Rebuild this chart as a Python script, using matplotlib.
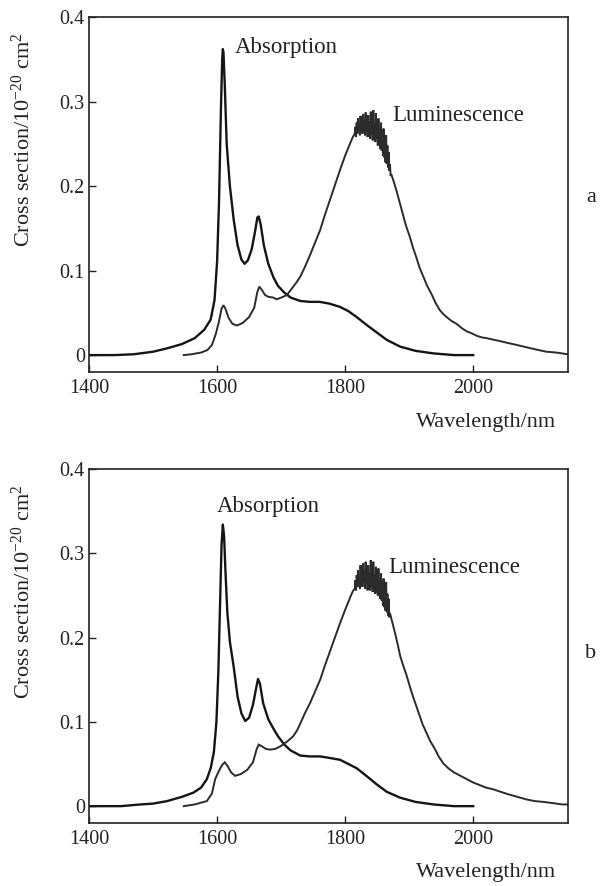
import matplotlib
matplotlib.use("Agg")
import matplotlib.pyplot as plt

plt.rcParams['font.family'] = ['Liberation Serif', 'DejaVu Serif']
plt.rcParams['mathtext.fontset'] = 'custom'
plt.rcParams['mathtext.rm'] = 'Liberation Serif'
plt.rcParams['mathtext.it'] = 'Liberation Serif:italic'

# ---------------- data ----------------
x_ticks = [1400, 1600, 1800, 2000]
x_tick_labels = ["1400", "1600", "1800", "2000"]
y_ticks = [0.0, 0.1, 0.2, 0.3, 0.4]
y_tick_labels = ["0", "0.1", "0.2", "0.3", "0.4"]

# panel a -- absorption
abs_a_wl = [1400, 1440, 1470, 1500, 1522, 1545, 1565, 1580, 1590, 1596, 1600, 1603, 1606, 1608,
            1609, 1610, 1612, 1615, 1620, 1626, 1632, 1638, 1643, 1648, 1654, 1659, 1663, 1665,
            1668, 1673, 1680, 1688, 1695, 1705, 1715, 1730, 1745, 1760, 1775, 1792, 1805, 1818,
            1833, 1849, 1865, 1886, 1910, 1938, 1970, 2000]
abs_a_val = [0.0, 0.0, 0.001, 0.004, 0.008, 0.013, 0.020, 0.030, 0.042, 0.065, 0.11, 0.18, 0.29, 0.35,
             0.362, 0.358, 0.32, 0.25, 0.20, 0.16, 0.13, 0.113, 0.108, 0.112, 0.125, 0.145, 0.163, 0.164,
             0.155, 0.13, 0.108, 0.092, 0.082, 0.074, 0.068, 0.064, 0.063, 0.063, 0.061, 0.057, 0.052, 0.045,
             0.036, 0.027, 0.018, 0.010, 0.005, 0.002, 0.0, 0.0]

# panel a -- luminescence (rise, noisy top, decay)
lum_a_rise_wl = [1548, 1560, 1575, 1585, 1592, 1598, 1603, 1607, 1610, 1613, 1618, 1624, 1631, 1640,
                 1650, 1658, 1663, 1666, 1670, 1675, 1680, 1688, 1693, 1700, 1709, 1718, 1724, 1730,
                 1737, 1745, 1753, 1761, 1768, 1776, 1784, 1792, 1800, 1808, 1812]
lum_a_rise_val = [0.0, 0.001, 0.003, 0.006, 0.012, 0.025, 0.040, 0.055, 0.059, 0.055, 0.044, 0.037, 0.035, 0.038,
                  0.045, 0.056, 0.075, 0.081, 0.077, 0.071, 0.069, 0.068, 0.066, 0.068, 0.071, 0.080, 0.086, 0.093,
                  0.104, 0.118, 0.133, 0.148, 0.165, 0.183, 0.201, 0.219, 0.236, 0.251, 0.258]
lum_a_top_wl = list(range(1815, 1873))
lum_a_top_val = [0.262, 0.270, 0.258, 0.275, 0.262, 0.280, 0.265, 0.272, 0.260, 0.283, 0.266, 0.278,
                 0.262, 0.285, 0.268, 0.276, 0.260, 0.287, 0.266, 0.279, 0.258, 0.284, 0.262, 0.276,
                 0.256, 0.288, 0.262, 0.274, 0.254, 0.290, 0.258, 0.272, 0.252, 0.286, 0.256, 0.270,
                 0.248, 0.280, 0.250, 0.264, 0.244, 0.275, 0.242, 0.262, 0.236, 0.268, 0.234, 0.255,
                 0.228, 0.260, 0.226, 0.248, 0.222, 0.240, 0.218, 0.226, 0.212, 0.214]
lum_a_fall_wl = [1876, 1880, 1885, 1890, 1895, 1901, 1906, 1911, 1916, 1922, 1928, 1935, 1941, 1948,
                 1954, 1960, 1967, 1974, 1982, 1990, 1997, 2005, 2013, 2021, 2033, 2045, 2056, 2068,
                 2079, 2090, 2102, 2114, 2130, 2147]
lum_a_fall_val = [0.205, 0.195, 0.181, 0.167, 0.153, 0.140, 0.127, 0.116, 0.104, 0.093, 0.082, 0.072, 0.062, 0.053,
                  0.048, 0.044, 0.040, 0.037, 0.032, 0.028, 0.026, 0.023, 0.021, 0.020, 0.018, 0.016, 0.014, 0.012,
                  0.010, 0.008, 0.006, 0.004, 0.003, 0.001]

# panel b -- absorption
abs_b_wl = [1400, 1450, 1480, 1500, 1522, 1545, 1563, 1575, 1584, 1590, 1595, 1599, 1602, 1605,
            1607, 1609, 1611, 1613, 1616, 1620, 1626, 1632, 1638, 1644, 1650, 1656, 1661, 1664,
            1667, 1672, 1680, 1688, 1695, 1705, 1715, 1730, 1745, 1761, 1777, 1792, 1805, 1818,
            1833, 1849, 1865, 1886, 1910, 1938, 1970, 2000]
abs_b_val = [0.0, 0.0, 0.002, 0.003, 0.006, 0.011, 0.016, 0.022, 0.032, 0.045, 0.064, 0.10, 0.16, 0.25,
             0.31, 0.334, 0.32, 0.28, 0.23, 0.195, 0.165, 0.13, 0.110, 0.101, 0.105, 0.120, 0.140, 0.151,
             0.145, 0.122, 0.103, 0.092, 0.083, 0.073, 0.066, 0.060, 0.059, 0.059, 0.057, 0.055, 0.050, 0.045,
             0.036, 0.026, 0.017, 0.010, 0.005, 0.002, 0.0, 0.0]

# panel b -- luminescence
lum_b_rise_wl = [1548, 1565, 1584, 1592, 1597, 1603, 1608, 1612, 1616, 1622, 1628, 1637, 1647, 1656,
                 1662, 1665, 1670, 1676, 1683, 1691, 1699, 1710, 1719, 1725, 1730, 1737, 1745, 1753,
                 1761, 1768, 1776, 1784, 1792, 1800, 1808, 1812]
lum_b_rise_val = [0.0, 0.002, 0.006, 0.015, 0.032, 0.042, 0.049, 0.052, 0.048, 0.040, 0.036, 0.038, 0.043, 0.052,
                  0.068, 0.073, 0.071, 0.068, 0.067, 0.068, 0.071, 0.077, 0.083, 0.090, 0.098, 0.110, 0.122, 0.136,
                  0.150, 0.166, 0.183, 0.200, 0.217, 0.233, 0.248, 0.255]
lum_b_top_wl = list(range(1815, 1871))
lum_b_top_val = [0.258, 0.268, 0.256, 0.274, 0.260, 0.280, 0.262, 0.272, 0.258, 0.286, 0.264, 0.276,
                 0.260, 0.288, 0.266, 0.278, 0.258, 0.290, 0.264, 0.280, 0.256, 0.286, 0.262, 0.276,
                 0.256, 0.292, 0.260, 0.276, 0.254, 0.290, 0.258, 0.274, 0.252, 0.284, 0.254, 0.270,
                 0.250, 0.282, 0.250, 0.266, 0.246, 0.276, 0.244, 0.266, 0.238, 0.270, 0.236, 0.262,
                 0.232, 0.266, 0.230, 0.252, 0.226, 0.246, 0.224, 0.229]
lum_b_fall_wl = [1874, 1878, 1882, 1886, 1891, 1896, 1901, 1906, 1911, 1916, 1921, 1927, 1933, 1940,
                 1946, 1953, 1961, 1970, 1980, 1990, 2000, 2010, 2020, 2031, 2043, 2055, 2069, 2083,
                 2096, 2110, 2120, 2130, 2139, 2147]
lum_b_fall_val = [0.217, 0.205, 0.192, 0.178, 0.166, 0.155, 0.142, 0.130, 0.119, 0.108, 0.097, 0.087, 0.077, 0.068,
                  0.059, 0.051, 0.045, 0.040, 0.036, 0.032, 0.028, 0.025, 0.022, 0.020, 0.017, 0.014, 0.011, 0.008,
                  0.006, 0.005, 0.004, 0.003, 0.002, 0.002]

panels = [
    dict(abs_wl=abs_a_wl, abs_val=abs_a_val,
         lum_wl=lum_a_rise_wl + lum_a_top_wl + lum_a_fall_wl,
         lum_val=lum_a_rise_val + lum_a_top_val + lum_a_fall_val, tag="a",
         abs_pos=(1628, 0.3645), lum_pos=(1873, 0.283)),
    dict(abs_wl=abs_b_wl, abs_val=abs_b_val,
         lum_wl=lum_b_rise_wl + lum_b_top_wl + lum_b_fall_wl,
         lum_val=lum_b_rise_val + lum_b_top_val + lum_b_fall_val, tag="b",
         abs_pos=(1600, 0.355), lum_pos=(1867, 0.283)),
]

# ---------------- figure ----------------
W, H = 600, 886
fig = plt.figure(figsize=(W / 100, H / 100), dpi=100)

axes_px = [(89, 17, 568, 372), (89, 469, 568, 823)]  # left, top, right, bottom in pixels
tag_px = [(591, 197), (591, 653)]

for p, (l, t, r, b), (tx, ty) in zip(panels, axes_px, tag_px):
    ax = fig.add_axes([l / W, 1 - b / H, (r - l) / W, (b - t) / H])
    ax.plot(p["abs_wl"], p["abs_val"], color="#151515", lw=1.7, solid_joinstyle="round")
    ax.plot(p["lum_wl"], p["lum_val"], color="#2b2b2b", lw=1.4, solid_joinstyle="miter")
    ax.set_xlim(1400, 2148)
    ax.set_ylim(-0.02, 0.4)
    ax.set_xticks(x_ticks)
    ax.set_xticklabels(x_tick_labels)
    ax.set_yticks(y_ticks)
    ax.set_yticklabels(y_tick_labels)
    ax.tick_params(direction="in", length=5, width=1.0, labelsize=14.5, colors="#222222")
    ax.tick_params(axis="y", pad=3)
    ax.tick_params(axis="x", pad=5)
    for s in ax.spines.values():
        s.set_linewidth(1.2)
        s.set_color("#222222")
    ax.text(p["abs_pos"][0], p["abs_pos"][1], "Absorption", fontsize=16.5, ha="left", va="center",
            color="#222222")
    ax.text(p["lum_pos"][0], p["lum_pos"][1], "Luminescence", fontsize=16.5, ha="left", va="center",
            color="#222222")
    ax.text((23 - l) / (r - l), (b - (t + 123)) / (b - t),
            r"Cross section/10$^{-20}$ cm$^2$", rotation=90, transform=ax.transAxes,
            fontsize=16, ha="center", va="center", color="#222222")
    ax.annotate("Wavelength/nm", xy=(556 / W, 1 - (b + 50) / H), xycoords="figure fraction",
                fontsize=16, ha="right", va="center", color="#222222")
    fig.text(tx / W, 1 - ty / H, p["tag"], fontsize=16, ha="center", va="center", color="#222222")

fig.savefig("out.png", dpi=100, facecolor="white")
